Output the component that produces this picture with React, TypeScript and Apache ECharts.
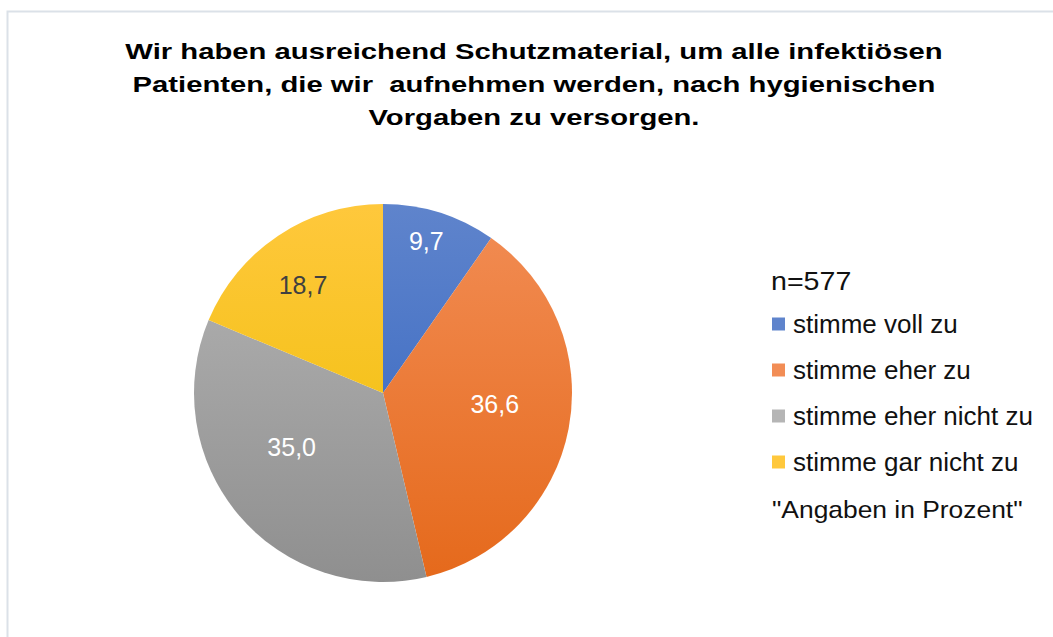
import React, { useEffect, useRef } from "react";
import * as echarts from "echarts";

const TITLE_LINES = [
  "Wir haben ausreichend Schutzmaterial, um alle infektiösen",
  "Patienten, die wir  aufnehmen werden, nach hygienischen",
  "Vorgaben zu versorgen.",
];
const CATEGORIES = ["stimme voll zu", "stimme eher zu", "stimme eher nicht zu", "stimme gar nicht zu"];
const VALUES = [9.7, 36.6, 35.0, 18.7];
const SAMPLE_LABEL = "n=577";
const UNIT_NOTE = "\"Angaben in Prozent\"";

const COLORS = [
  ["#5f84cc", "#2f62bf"],
  ["#f28d55", "#e5691b"],
  ["#b5b5b5", "#8f8f8f"],
  ["#ffc83c", "#ecbd00"],
];
const LABEL_COLORS = ["#ffffff", "#ffffff", "#ffffff", "#404040"];
// label nudges (style only), relative to the default inside position
const LABEL_NUDGE = [
  [14, -59],
  [16, -7],
  [-17, -9],
  [-26, -27],
];

const FONT = "'Liberation Sans', Arial, sans-serif";

export default function App() {
  const ref = useRef<HTMLDivElement>(null);
  useEffect(() => {
    if (!ref.current) return;
    const chart = echarts.init(ref.current, undefined, { renderer: "svg" });
    const cx = 383, cy = 393, r = 189;
    const titleTexts = TITLE_LINES.map((line, i) => ({
      type: "text",
      x: 534,
      y: 51 + i * 33,
      scaleX: 1.33,
      style: {
        text: line,
        font: `bold 22px ${FONT}`,
        fill: "#000000",
        textAlign: "center",
        textVerticalAlign: "middle",
      },
    }));
    chart.setOption({
      animation: false,
      backgroundColor: "#ffffff",
      legend: {
        orient: "vertical",
        left: 772,
        top: 311,
        padding: 0,
        itemWidth: 13,
        itemHeight: 13,
        itemGap: 20,
        icon: "rect",
        data: CATEGORIES,
        textStyle: {
          fontFamily: FONT,
          fontSize: 26,
          lineHeight: 26,
          color: "#111111",
          padding: [0, 0, 0, 3],
        },
      },
      graphic: [
        {
          type: "rect",
          shape: { x: 7.5, y: 11.5, width: 1100, height: 700 },
          style: { fill: "none", stroke: "#dbe1e8", lineWidth: 2 },
          silent: true,
        },
        ...titleTexts,
        {
          type: "text",
          x: 771,
          y: 281,
          scaleX: 1.1,
          style: {
            text: SAMPLE_LABEL,
            font: `26px ${FONT}`,
            fill: "#111111",
            textVerticalAlign: "middle",
          },
        },
        {
          type: "text",
          x: 772,
          y: 509,
          scaleX: 1.1,
          style: {
            text: UNIT_NOTE,
            font: `24px ${FONT}`,
            fill: "#111111",
            textVerticalAlign: "middle",
          },
        },
      ],
      series: [
        {
          type: "pie",
          center: [cx, cy],
          radius: r,
          startAngle: 90,
          clockwise: true,
          label: {
            position: "inside",
            fontFamily: FONT,
            fontSize: 25,
            formatter: (p: any) => p.value.toFixed(1).replace(".", ","),
          },
          labelLayout: (params: any) => {
            const n = LABEL_NUDGE[params.dataIndex] || [0, 0];
            return { dx: n[0], dy: n[1] };
          },
          labelLine: { show: false },
          emphasis: { disabled: true },
          data: CATEGORIES.map((name, i) => ({
            name,
            value: VALUES[i],
            itemStyle: {
              color: new echarts.graphic.LinearGradient(
                0, cy - r, 0, cy + r,
                [
                  { offset: 0, color: COLORS[i][0] },
                  { offset: 1, color: COLORS[i][1] },
                ],
                true
              ),
              borderWidth: 0,
            },
            label: { color: LABEL_COLORS[i] },
          })),
        },
      ],
    });
    return () => chart.dispose();
  }, []);
  return (
    <div
      ref={ref}
      style={{ position: "absolute", left: 0, top: 0, width: 1053, height: 637 }}
    />
  );
}
